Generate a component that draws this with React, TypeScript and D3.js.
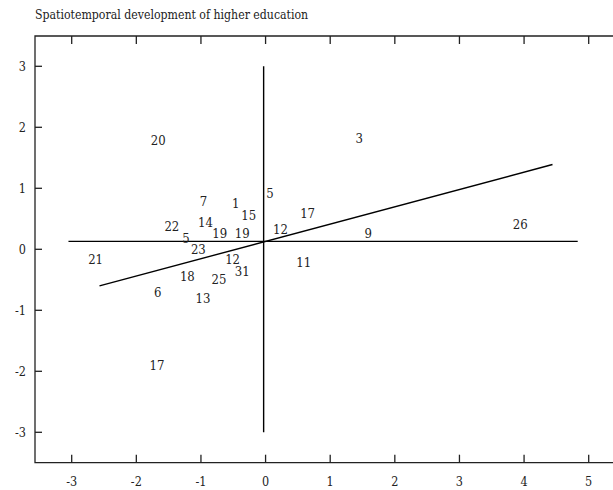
import React from 'react';
import * as d3 from 'd3';

// point labels
const pointLabels = ['20', '3', '7', '1', '5', '15', '17', '22', '14', '5', '19', '19', '12', '9', '26', '23', '21', '12', '11', '31', '18', '25', '6', '13', '17'];
const pointX = [-1.66, 1.45, -0.96, -0.46, 0.07, -0.26, 0.65, -1.45, -0.93, -1.23, -0.71, -0.36, 0.23, 1.59, 3.94, -1.04, -2.63, -0.51, 0.59, -0.36, -1.21, -0.72, -1.67, -0.97, -1.68];
const pointY = [1.79, 1.82, 0.78, 0.76, 0.91, 0.56, 0.59, 0.38, 0.44, 0.18, 0.26, 0.27, 0.33, 0.27, 0.41, 0.0, -0.16, -0.16, -0.22, -0.36, -0.44, -0.49, -0.7, -0.8, -1.91];

// reference lines: [x1, y1, x2, y2]
const horizontalLine = [-3.05, 0.13, 4.83, 0.13];
const verticalLine = [-0.03, 3, -0.03, -3];
const trendLine = [-2.57, -0.6, 4.44, 1.39];

const xTicks = [-3, -2, -1, 0, 1, 2, 3, 4, 5];
const yTicks = [3, 2, 1, 0, -1, -2, -3];

const title = 'Spatiotemporal development of higher education';

const width = 613;
const height = 490;
const frame = { left: 35, top: 36, bottom: 462.7 };
const font = 'DejaVu Serif Condensed, DejaVu Serif';

export default function App() {
  const x = d3.scaleLinear().domain([-3, 5]).range([71.7, 588.7]);
  const y = d3.scaleLinear().domain([-3, 3]).range([432.3, 66.3]);

  const seg = (l: number[], key: string) => (
    <line key={key} x1={x(l[0])} y1={y(l[1])} x2={x(l[2])} y2={y(l[3])} stroke="#000" strokeWidth={1.4} />
  );

  return (
    <svg width={width} height={height} style={{ position: 'absolute', left: 0, top: 0, background: '#fff' }}>
      <g fontFamily={font} fill="#222">
        <text x={35} y={19} fontSize={12.2}>{title}</text>

        {/* frame, right side runs off the picture */}
        <path
          d={`M${width + 5},${frame.top}H${frame.left}V${frame.bottom}H${width + 5}`}
          fill="none"
          stroke="#222"
          strokeWidth={1.3}
        />

        {xTicks.map(t => (
          <g key={'xt' + t}>
            <line x1={x(t)} x2={x(t)} y1={frame.top} y2={frame.top + 8} stroke="#222" strokeWidth={1.3} />
            <line x1={x(t)} x2={x(t)} y1={frame.bottom} y2={frame.bottom - 8} stroke="#222" strokeWidth={1.3} />
            <text x={x(t)} y={486} fontSize={12.5} textAnchor="middle">{t}</text>
          </g>
        ))}

        {yTicks.map(t => (
          <g key={'yt' + t}>
            <line x1={frame.left} x2={frame.left + 7} y1={y(t)} y2={y(t)} stroke="#222" strokeWidth={1.3} />
            <text x={26} y={y(t)} dy="0.35em" fontSize={12.5} textAnchor="end">{t}</text>
          </g>
        ))}

        {seg(horizontalLine, 'h')}
        {seg(verticalLine, 'v')}
        {seg(trendLine, 't')}

        {pointLabels.map((lab, i) => (
          <text key={'p' + i} x={x(pointX[i])} y={y(pointY[i])} dy="0.36em" fontSize={13} textAnchor="middle">
            {lab}
          </text>
        ))}
      </g>
    </svg>
  );
}
